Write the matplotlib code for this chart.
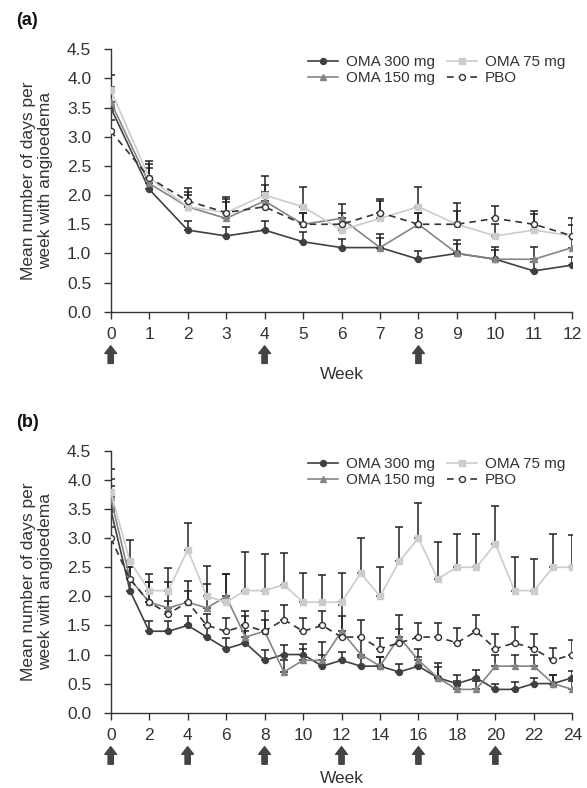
import numpy as np
import matplotlib
matplotlib.use('Agg')
import matplotlib.pyplot as plt

plt.rcParams['font.family'] = ['Liberation Sans', 'DejaVu Sans']

# ---- data ----
weeks_a = list(range(0, 13))
oma300_a = [3.5, 2.1, 1.4, 1.3, 1.4, 1.2, 1.1, 1.1, 0.9, 1.0, 0.9, 0.7, 0.8]
oma150_a = [3.6, 2.2, 1.8, 1.6, 1.9, 1.5, 1.6, 1.1, 1.5, 1.0, 0.9, 0.9, 1.1]
oma75_a = [3.8, 2.3, 1.8, 1.7, 2.0, 1.8, 1.4, 1.6, 1.8, 1.5, 1.3, 1.4, 1.3]
pbo_a = [3.1, 2.3, 1.9, 1.7, 1.8, 1.5, 1.5, 1.7, 1.5, 1.5, 1.6, 1.5, 1.3]
# top of the (upper only) error bars
cap300_a = [3.75, 2.3, 1.56, 1.46, 1.56, 1.36, 1.24, 1.26, 1.05, 1.17, 1.06, 0.85, 0.94]
cap150_a = [3.85, 2.47, 2.0, 1.88, 2.17, 1.70, 1.85, 1.33, 1.70, 1.23, 1.11, 1.11, 1.3]
cap75_a = [4.06, 2.58, 2.05, 1.97, 2.32, 2.14, 1.6, 1.9, 2.14, 1.86, 1.5, 1.68, 1.49]
capp_a = [3.29, 2.53, 2.12, 1.93, 2.05, 1.70, 1.70, 1.93, 1.70, 1.73, 1.81, 1.72, 1.61]
dose_a = [0, 4, 8]

weeks_b = list(range(0, 25))
oma300_b = [3.5, 2.1, 1.4, 1.4, 1.5, 1.3, 1.1, 1.2, 0.9, 1.0, 1.0, 0.8, 0.9, 0.8, 0.8, 0.7, 0.8, 0.6, 0.5, 0.6, 0.4, 0.4, 0.5, 0.5, 0.6]
oma150_b = [3.7, 2.3, 1.9, 1.8, 1.9, 1.8, 2.0, 1.3, 1.4, 0.7, 0.9, 0.9, 1.4, 1.0, 0.8, 1.3, 0.9, 0.6, 0.4, 0.4, 0.8, 0.8, 0.8, 0.5, 0.4]
oma75_b = [3.8, 2.6, 2.1, 2.1, 2.8, 2.0, 1.9, 2.1, 2.1, 2.2, 1.9, 1.9, 1.9, 2.4, 2.0, 2.6, 3.0, 2.3, 2.5, 2.5, 2.9, 2.1, 2.1, 2.5, 2.5]
pbo_b = [3.0, 2.3, 1.9, 1.7, 1.9, 1.5, 1.4, 1.5, 1.4, 1.6, 1.4, 1.5, 1.3, 1.3, 1.1, 1.2, 1.3, 1.3, 1.2, 1.4, 1.1, 1.2, 1.1, 0.9, 1.0]
cap300_b = [3.9, 2.3, 1.57, 1.57, 1.67, 1.5, 1.28, 1.4, 1.07, 1.16, 1.18, 1.0, 1.05, 0.95, 0.95, 0.84, 0.95, 0.78, 0.65, 0.73, 0.49, 0.52, 0.6, 0.65, 0.71]
cap150_b = [4.01, 2.5, 2.24, 2.24, 2.26, 2.22, 2.38, 1.67, 1.74, 0.9, 1.10, 1.22, 1.85, 1.3, 0.95, 1.44, 1.1, 0.86, 0.55, 0.55, 1.0, 1.0, 1.0, 0.65, 0.55]
cap75_b = [4.19, 2.97, 2.38, 2.49, 3.26, 2.52, 2.38, 2.76, 2.72, 2.74, 2.40, 2.37, 2.40, 3.0, 2.51, 3.2, 3.61, 2.93, 3.07, 3.07, 3.56, 2.67, 2.64, 3.08, 3.05]
capp_b = [3.2, 2.5, 2.24, 1.92, 2.1, 1.7, 1.62, 1.74, 1.6, 1.85, 1.63, 1.75, 1.67, 1.59, 1.29, 1.68, 1.55, 1.55, 1.45, 1.68, 1.35, 1.48, 1.35, 1.12, 1.25]
dose_b = [0, 4, 8, 12, 16, 20]

labels = ['OMA 300 mg', 'OMA 150 mg', 'OMA 75 mg', 'PBO']
txt = '#333333'


def draw_panel(ax, weeks, series, caps, doses, xticks, tag):
    styles = [
        dict(color='#404040', marker='o', ls='-', mfc='#404040', mec='#404040', ms=4.3),
        dict(color='#858585', marker='^', ls='-', mfc='#858585', mec='#858585', ms=4.8),
        dict(color='#cccccc', marker='s', ls='-', mfc='#cccccc', mec='#cccccc', ms=4.3),
        dict(color='#333333', marker='o', ls=(0, (4, 3)), mfc='white', mec='#333333', ms=4.3),
    ]
    x = np.array(weeks)
    for vals, cap in zip(series, caps):
        vals = np.array(vals)
        up = np.array(cap) - vals
        ax.errorbar(x, vals, yerr=[np.zeros_like(up), up], fmt='none',
                    ecolor='#222222', elinewidth=1.1, capsize=2.7, capthick=1.1, zorder=2)
    handles = []
    for vals, st, lab in zip(series, styles, labels):
        h, = ax.plot(x, vals, lw=1.2, label=lab, zorder=3, **st)
        handles.append(h)
    ax.legend(handles, labels, ncol=2, frameon=False,
              loc='upper right', bbox_to_anchor=(1.015, 1.03), fontsize=11,
              handlelength=2.0, handletextpad=0.5, columnspacing=0.8,
              labelspacing=0.15, labelcolor=txt)

    ax.set_xlim(0, weeks[-1])
    ax.set_ylim(0, 4.5)
    ax.set_yticks(np.arange(0, 4.51, 0.5))
    ax.set_yticklabels(['%.1f' % v for v in np.arange(0, 4.51, 0.5)])
    ax.set_xticks(xticks)
    ax.spines['top'].set_visible(False)
    ax.spines['right'].set_visible(False)
    for s in ['left', 'bottom']:
        ax.spines[s].set_color(txt)
        ax.spines[s].set_linewidth(1.0)
    ax.tick_params(colors=txt, labelsize=12.5, length=5, width=1.0)
    ax.tick_params(axis='y', pad=9)
    ax.tick_params(axis='x', pad=6)
    ax.set_ylabel('Mean number of days per\nweek with angioedema', fontsize=12.5, color=txt)
    ax.yaxis.set_label_coords(-0.125, 0.5)
    ax.set_xlabel('Week', fontsize=12.5, color=txt)

    # dosing arrows under the axis
    tr = ax.get_xaxis_transform()
    for d in doses:
        ax.annotate('', xy=(d, -0.13), xytext=(d, -0.197), xycoords=tr, textcoords=tr,
                    arrowprops=dict(arrowstyle='simple,head_length=0.55,head_width=0.85,tail_width=0.38',
                                    color='#444444', shrinkA=0, shrinkB=0, mutation_scale=10),
                    annotation_clip=False)
    ax.text(-0.205, 1.11, tag, transform=ax.transAxes, fontsize=13, fontweight='bold',
            color='#111111', va='center', ha='left')


fig = plt.figure(figsize=(5.87, 7.88), dpi=100)
ax1 = fig.add_axes([0.1886, 0.6044, 0.7864, 0.333])
ax2 = fig.add_axes([0.1886, 0.0956, 0.7864, 0.3321])

draw_panel(ax1, weeks_a, [oma300_a, oma150_a, oma75_a, pbo_a],
           [cap300_a, cap150_a, cap75_a, capp_a], dose_a, list(range(0, 13)), '(a)')
ax1.xaxis.set_label_coords(0.5, -0.212)

draw_panel(ax2, weeks_b, [oma300_b, oma150_b, oma75_b, pbo_b],
           [cap300_b, cap150_b, cap75_b, capp_b], dose_b, list(range(0, 25, 2)), '(b)')
ax2.xaxis.set_label_coords(0.5, -0.222)

fig.savefig('out.png', dpi=100)
